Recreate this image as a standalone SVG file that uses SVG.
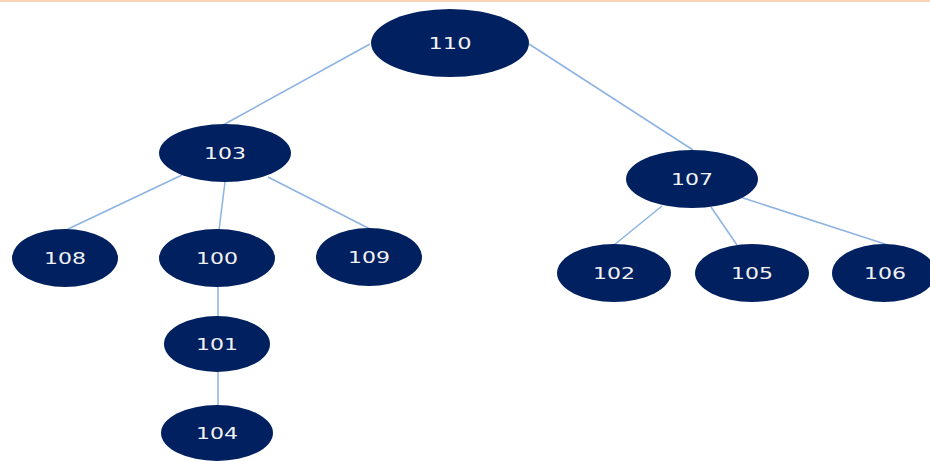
<svg xmlns="http://www.w3.org/2000/svg" width="930" height="461" viewBox="0 0 930 461">
<style>
.n ellipse{fill:#002060}
.n text{fill:#f2f2f2;font-family:"DejaVu Sans",sans-serif;font-size:15px;text-anchor:middle}
.c line{stroke:#8db3e2;stroke-width:1.5}
</style>
<rect x="0" y="0" width="930" height="461" fill="#ffffff"/>
<rect x="0" y="0" width="930" height="2" fill="#fbd5b5"/>
<g class="c" id="connectors">
<line x1="370" y1="44" x2="223" y2="125"/>
<line x1="529" y1="44" x2="693" y2="150"/>
<line x1="182" y1="175" x2="66" y2="230"/>
<line x1="225" y1="182" x2="219" y2="230"/>
<line x1="268" y1="177" x2="370" y2="229"/>
<line x1="218" y1="287" x2="218" y2="316"/>
<line x1="218" y1="371" x2="218" y2="406"/>
<line x1="662" y1="206" x2="614" y2="245"/>
<line x1="711" y1="207" x2="737" y2="245"/>
<line x1="740" y1="197" x2="888" y2="245"/>
</g>
<g class="n" id="n110"><ellipse cx="450" cy="43" rx="79" ry="34"/><text x="450" y="49" textLength="43" lengthAdjust="spacingAndGlyphs">110</text></g>
<g class="n" id="n103"><ellipse cx="225" cy="153" rx="66" ry="29"/><text x="225" y="159" textLength="42" lengthAdjust="spacingAndGlyphs">103</text></g>
<g class="n" id="n107"><ellipse cx="692" cy="179" rx="66" ry="29"/><text x="692" y="185" textLength="42" lengthAdjust="spacingAndGlyphs">107</text></g>
<g class="n" id="n108"><ellipse cx="65" cy="258" rx="53" ry="29"/><text x="65" y="264" textLength="42" lengthAdjust="spacingAndGlyphs">108</text></g>
<g class="n" id="n100"><ellipse cx="217" cy="258" rx="58" ry="29"/><text x="217" y="264" textLength="42" lengthAdjust="spacingAndGlyphs">100</text></g>
<g class="n" id="n109"><ellipse cx="369" cy="257" rx="53" ry="29"/><text x="369" y="263" textLength="42" lengthAdjust="spacingAndGlyphs">109</text></g>
<g class="n" id="n101"><ellipse cx="217" cy="344" rx="53" ry="28"/><text x="217" y="350" textLength="42" lengthAdjust="spacingAndGlyphs">101</text></g>
<g class="n" id="n104"><ellipse cx="217" cy="433" rx="56" ry="28"/><text x="217" y="439" textLength="42" lengthAdjust="spacingAndGlyphs">104</text></g>
<g class="n" id="n102"><ellipse cx="614" cy="273" rx="57" ry="29"/><text x="614" y="279" textLength="42" lengthAdjust="spacingAndGlyphs">102</text></g>
<g class="n" id="n105"><ellipse cx="752" cy="273" rx="57" ry="29"/><text x="752" y="279" textLength="42" lengthAdjust="spacingAndGlyphs">105</text></g>
<g class="n" id="n106"><ellipse cx="884" cy="273" rx="52" ry="29"/><text x="885" y="279" textLength="42" lengthAdjust="spacingAndGlyphs">106</text></g>
</svg>
